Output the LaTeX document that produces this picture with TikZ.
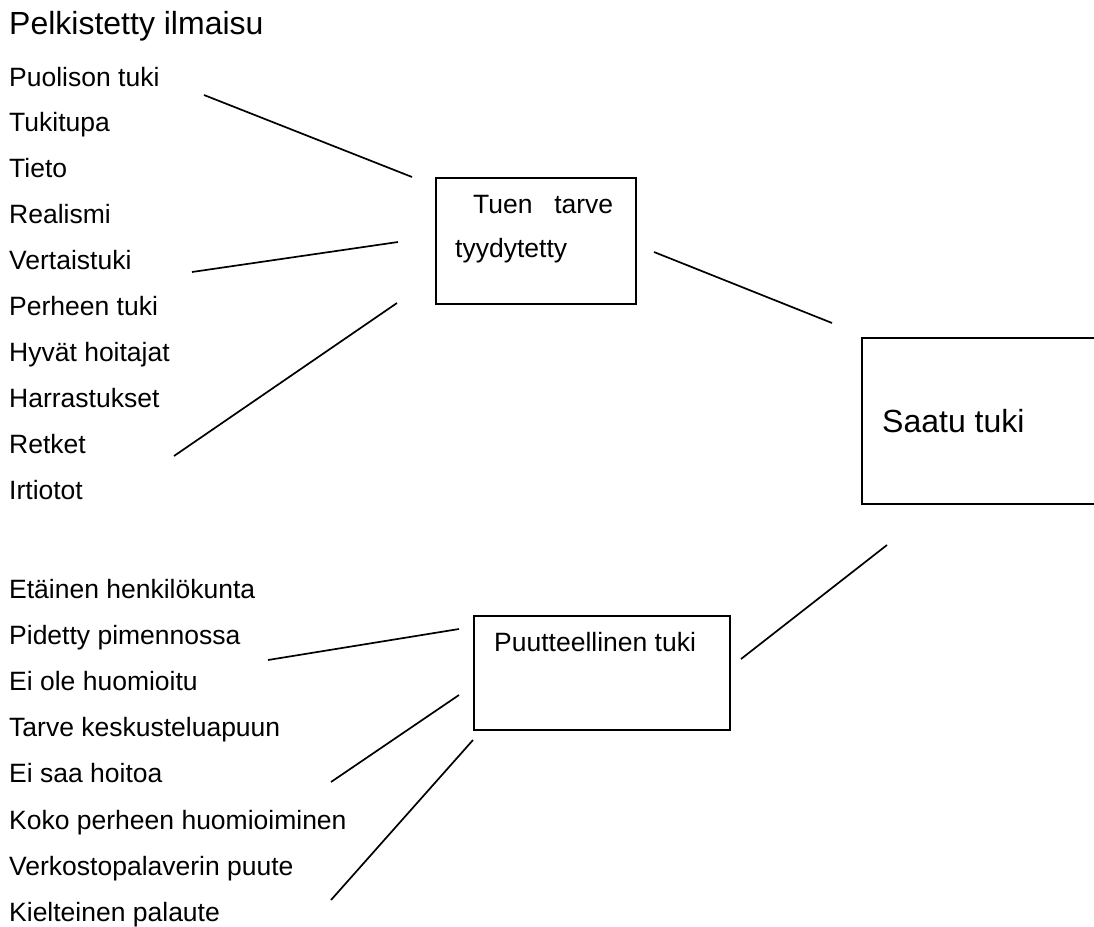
\documentclass[tikz,border=0pt]{standalone}
\usepackage{fontspec}
\setmainfont{Liberation Sans}
\begin{document}
\begin{tikzpicture}[x=1pt,y=-1pt,
  txt/.style={anchor=base west,inner sep=0pt,font=\fontsize{26.5}{30}\selectfont},
  big/.style={anchor=base west,inner sep=0pt,font=\fontsize{32}{36}\selectfont},
  boxnode/.style={draw,line width=1.8pt,anchor=north west,inner sep=0pt},
  link/.style={line width=1.7pt}]
\useasboundingbox (0,0) rectangle (1094,926);
\clip (0,0) rectangle (1094,926);
% heading
\node[big] (title) at (9,34) {Pelkistetty ilmaisu};
% upper list
\foreach \t [count=\i] in {Puolison tuki,Tukitupa,Tieto,Realismi,Vertaistuki,Perheen tuki,Hyvät hoitajat,Harrastukset,Retket,Irtiotot}
  \node[txt] (u\i) at (9,{86+45.9*(\i-1)}) {\t};
% lower list
\foreach \t [count=\i] in {Etäinen henkilökunta,Pidetty pimennossa,Ei ole huomioitu,Tarve keskusteluapuun,Ei saa hoitoa,Koko perheen huomioiminen,Verkostopalaverin puute,Kielteinen palaute}
  \node[txt] (l\i) at (9,{598+46.2*(\i-1)}) {\t};
% boxes
\node[boxnode,minimum width=200pt,minimum height=126pt] (need) at (435,177) {};
\node[boxnode,minimum width=240pt,minimum height=166pt] (got) at (861,337) {};
\node[boxnode,minimum width=256pt,minimum height=114pt] (lack) at (473,615) {};
% box texts
\node[txt] (needa) at (473,213) {\hbox to 140pt{Tuen\hfill tarve}};
\node[txt] (needb) at (455,257) {tyydytetty};
\node[big] (gott) at (882,432) {Saatu tuki};
\node[txt] (lackt) at (494,651) {Puutteellinen tuki};
% connector ends
\coordinate (a1) at (204,95);   \coordinate (a2) at (412,177);
\coordinate (b1) at (192,272);  \coordinate (b2) at (398,242);
\coordinate (c1) at (174,456);  \coordinate (c2) at (397,303);
\coordinate (d1) at (654,252);  \coordinate (d2) at (832,323);
\coordinate (e1) at (741,659);  \coordinate (e2) at (887,545);
\coordinate (f1) at (268,660);  \coordinate (f2) at (459,629);
\coordinate (g1) at (331,782);  \coordinate (g2) at (459,695);
\coordinate (h1) at (331,900);  \coordinate (h2) at (473,740);
\draw[link] (a1) -- (a2);
\draw[link] (b1) -- (b2);
\draw[link] (c1) -- (c2);
\draw[link] (d1) -- (d2);
\draw[link] (e1) -- (e2);
\draw[link] (f1) -- (f2);
\draw[link] (g1) -- (g2);
\draw[link] (h1) -- (h2);
\end{tikzpicture}
\end{document}
